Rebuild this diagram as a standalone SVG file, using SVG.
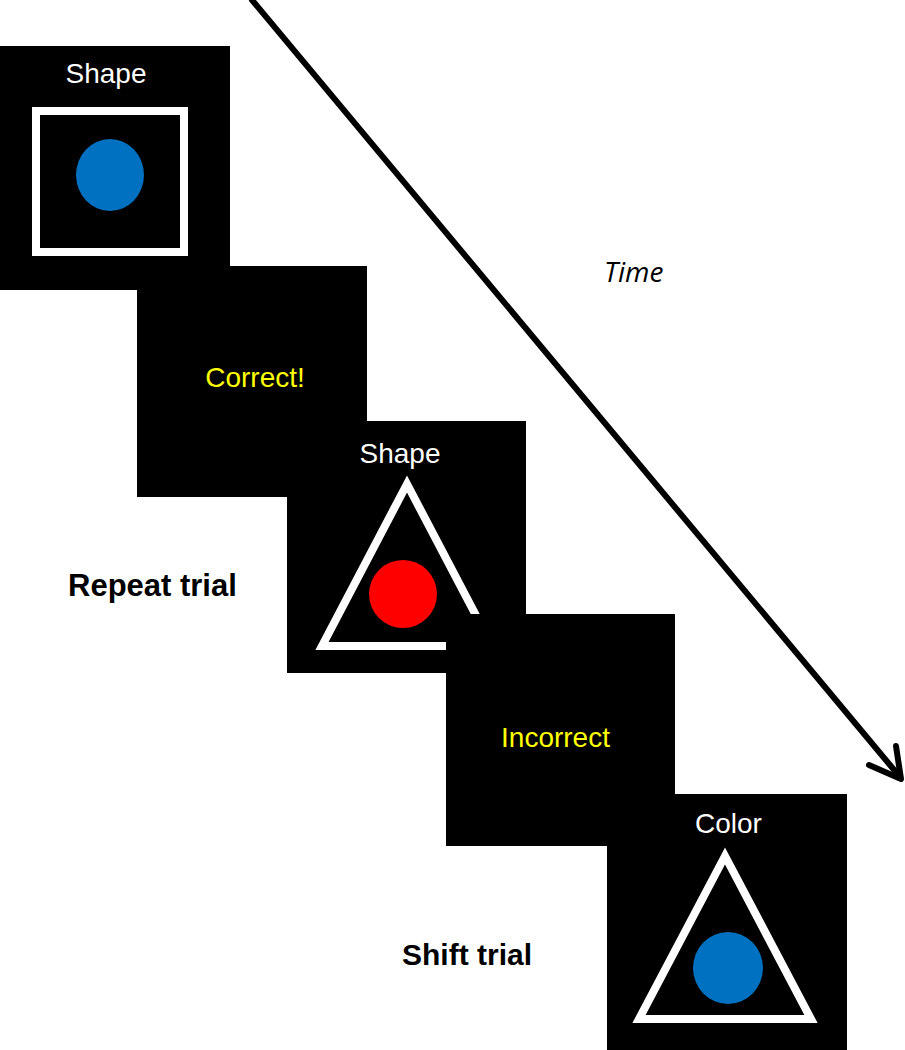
<svg xmlns="http://www.w3.org/2000/svg" width="905" height="1050" viewBox="0 0 905 1050">
<style>
.panel{fill:#000}
.lbl{font-family:"Liberation Sans",Arial,sans-serif;font-size:28px;text-anchor:middle}
.w{fill:#fff}
.y{fill:#ffff00}
.frame{fill:none;stroke:#fff;stroke-width:8;stroke-linejoin:miter}
.trial{font-family:"Liberation Sans",Arial,sans-serif;font-size:31px;font-weight:bold;fill:#000}
.time{font-family:"Open Sans","DejaVu Sans",sans-serif;font-style:italic;font-size:28px;fill:#000}
.arrow{fill:none;stroke:#000;stroke-width:6;stroke-linecap:round;stroke-linejoin:round}
</style>
<rect width="905" height="1050" fill="#fff"/>
<g id="connectors">
<path class="arrow" d="M252,0 L900,777"/>
<path class="arrow" d="M869,765 L901,779 L896,746"/>
</g>
<g id="panel1">
<rect class="panel" x="0" y="46" width="230" height="244"/>
<text class="lbl w" x="106" y="83">Shape</text>
<rect class="frame" x="36" y="111" width="148" height="141"/>
<ellipse cx="110" cy="175" rx="34" ry="36" fill="#0070c0"/>
</g>
<g id="panel2">
<rect class="panel" x="137" y="266" width="230" height="231"/>
<text class="lbl y" x="255" y="387">Correct!</text>
</g>
<g id="panel3">
<rect class="panel" x="287" y="421" width="239" height="252"/>
<text class="lbl w" x="400" y="463">Shape</text>
<polygon class="frame" points="407,484 322,646 492,646"/>
<circle cx="403" cy="594" r="34" fill="#ff0000"/>
</g>
<g id="panel4">
<rect class="panel" x="446" y="614" width="229" height="232"/>
<text class="lbl y" x="555.5" y="747">Incorrect</text>
</g>
<g id="panel5">
<rect class="panel" x="607" y="794" width="240" height="256"/>
<text class="lbl w" x="728.5" y="833">Color</text>
<polygon class="frame" points="725,856 639,1019 811,1019"/>
<ellipse cx="728" cy="968" rx="35" ry="36" fill="#0070c0"/>
</g>
<g id="labels">
<text class="time" x="604" y="282">Time</text>
<text class="trial" x="68" y="596">Repeat trial</text>
<text class="trial" x="402" y="965" style="font-size:30px">Shift trial</text>
</g>
</svg>
